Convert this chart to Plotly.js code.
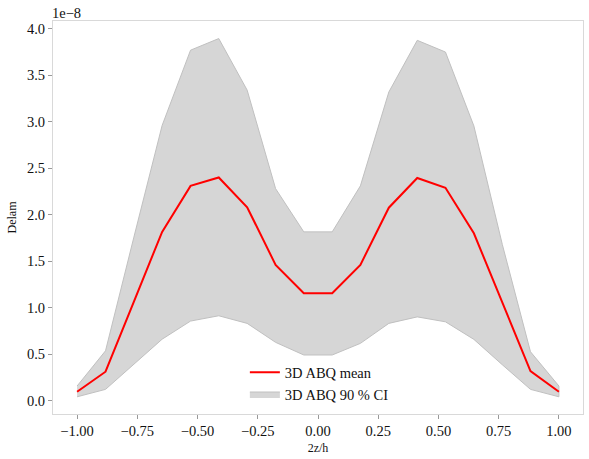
<!DOCTYPE html>
<html>
<head>
<meta charset="utf-8">
<script src="https://cdn.plot.ly/plotly-3.0.1.min.js"></script>
<style>html,body{margin:0;padding:0;background:#fff;}#chart{width:589px;height:459px;}</style>
</head>
<body>
<div id="chart"></div>
<script>
// positions 2z/h (18 layers)
const zPos = [-1.0, -0.882, -0.765, -0.647, -0.529, -0.412, -0.294, -0.176, -0.059,
              0.059, 0.176, 0.294, 0.412, 0.529, 0.647, 0.765, 0.882, 1.0];
// values in units of 1e-8
const meanVals = [0.095, 0.31, 1.06, 1.815, 2.31, 2.40, 2.08, 1.46, 1.155,
                  1.155, 1.46, 2.075, 2.395, 2.29, 1.80, 1.06, 0.317, 0.095];
const upperVals = [0.156, 0.535, 1.75, 2.96, 3.77, 3.895, 3.34, 2.28, 1.815,
                   1.815, 2.31, 3.32, 3.876, 3.75, 2.955, 1.68, 0.525, 0.156];
const lowerVals = [0.04, 0.12, 0.39, 0.66, 0.855, 0.912, 0.83, 0.626, 0.49,
                   0.49, 0.615, 0.83, 0.90, 0.847, 0.658, 0.385, 0.12, 0.04];
const xTicks = [-1.0, -0.75, -0.5, -0.25, 0.0, 0.25, 0.5, 0.75, 1.0];
const yTicks = [0.0, 0.5, 1.0, 1.5, 2.0, 2.5, 3.0, 3.5, 4.0];

const bandX = zPos.concat(zPos.slice().reverse());
const bandY = upperVals.concat(lowerVals.slice().reverse());

const fam = '"Liberation Serif", "DejaVu Serif", serif';
const font = {family: fam, size: 14.5, color: '#111'};

const data = [
  {x: bandX, y: bandY, type: 'scatter', mode: 'lines', fill: 'toself',
   fillcolor: 'rgb(214,214,214)', line: {color: 'rgb(192,192,192)', width: 1},
   name: '3D ABQ 90 % CI', legendrank: 2, hoverinfo: 'skip'},
  {x: zPos, y: meanVals, type: 'scatter', mode: 'lines',
   line: {color: 'red', width: 2}, name: '3D ABQ mean', legendrank: 1}
];

const axisCommon = {
  showgrid: false, zeroline: false, showline: true, mirror: true,
  linecolor: '#d9d9d9', linewidth: 1, ticks: 'outside', ticklen: 4,
  tickcolor: '#999', tickwidth: 1, tickfont: font
};

const layout = {
  width: 589, height: 459,
  margin: {l: 53, r: 6, t: 21, b: 45},
  paper_bgcolor: '#fff', plot_bgcolor: '#fff',
  font: font,
  showlegend: true,
  legend: {x: 0.362, y: 0.147, xanchor: 'left', yanchor: 'top',
           bgcolor: 'rgba(255,255,255,0)', font: font, tracegroupgap: 0},
  xaxis: Object.assign({}, axisCommon, {
    range: [-1.1, 1.1], tickvals: xTicks, tickformat: '.2f',
    title: {text: '2z/h', font: {family: fam, size: 12, color: '#111'}, standoff: 5}
  }),
  yaxis: Object.assign({}, axisCommon, {
    range: [-0.145, 4.084], tickvals: yTicks, tickformat: '.1f',
    title: {text: 'Delam', font: {family: fam, size: 12, color: '#111'}, standoff: 7}
  }),
  annotations: [{
    xref: 'paper', yref: 'paper', x: 0, y: 1, xanchor: 'left', yanchor: 'bottom',
    text: '1e\u22128', showarrow: false, font: font, xshift: -3, yshift: -2
  }]
};

Plotly.newPlot('chart', data, layout, {displayModeBar: false, staticPlot: true});
</script>
</body>
</html>
